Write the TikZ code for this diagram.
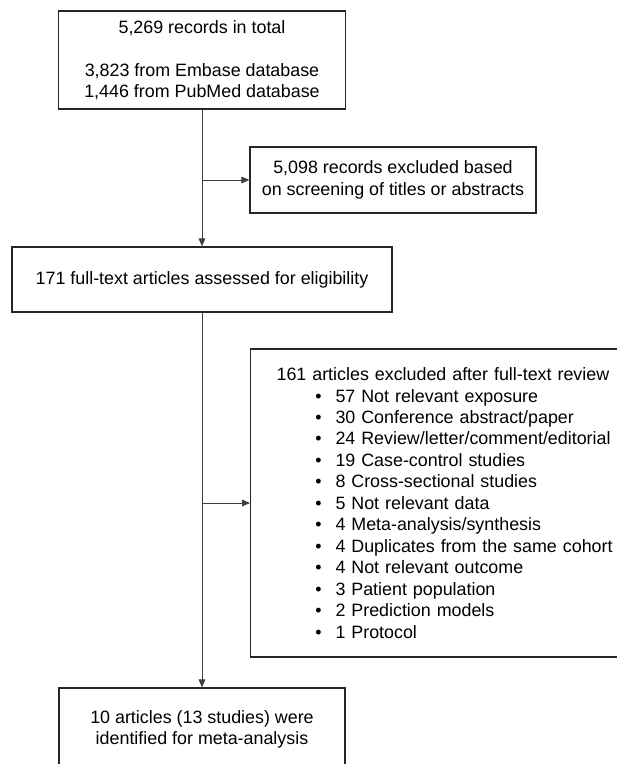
\documentclass[tikz,border=0pt]{standalone}
\usepackage{fontspec}
\setmainfont{Liberation Sans}
\usetikzlibrary{arrows.meta, positioning}
\newcommand{\bitem}[1]{\hspace*{29pt}\textbullet\hspace{10.5pt}#1}

\begin{document}
\begin{tikzpicture}[x=0.75pt, y=-0.75pt, every node/.style={draw=black!85,
						line width=0.9pt, align=center, font=\fontsize{13.4}{16.1}\selectfont},
						link/.style={draw=black!75, line width=0.7pt, -{Triangle[length=6pt, width=5pt]}}]
			\useasboundingbox (0,0) rectangle (617,764);
			\node[minimum width=215pt, minimum height=73.5pt] (records) at (202,60) {5,269 records in total\\[16.1pt]3,823 from Embase database\\1,446 from PubMed database};
			\node[minimum width=214.5pt, minimum height=49.5pt] (screened) at (393,180) {5,098 records excluded based\\on screening of titles or abstracts};
			\node[minimum width=285pt, minimum height=48.75pt] (fulltext) at (202,279.5) {171 full-text articles assessed for eligibility};
                \node[anchor=west, align=left, text width=255pt, inner xsep=19.5pt, minimum height=231pt] (excluded) at (250,503) {161 articles excluded after full-text review\\
                	\bitem{57 Not relevant exposure}\\
                	\bitem{30 Conference abstract/paper}\\
                	\bitem{24 Review/letter/comment/editorial}\\
                	\bitem{19 Case-control studies}\\
                	\bitem{8 Cross-sectional studies}\\
                	\bitem{5 Not relevant data}\\
                	\bitem{4 Meta-analysis/synthesis}\\
                	\bitem{4 Duplicates from the same cohort}\\
                	\bitem{4 Not relevant outcome}\\
                	\bitem{3 Patient population}\\
                	\bitem{2 Prediction models}\\
                	\bitem{1 Protocol}};
                \node[minimum width=214.5pt, minimum height=62.25pt] (included) at (202,729.5) {10 articles (13 studies) were\\identified for meta-analysis};
                \coordinate (split1) at (202,180);
                \coordinate (split2) at (202,503);

			\draw[link] (records) -- (fulltext);
			\draw[link] (split1) -- (screened.west);
			\draw[link] (fulltext) -- (included);
                \draw[link] (split2) -- (excluded.west);
		\end{tikzpicture}
\end{document}
